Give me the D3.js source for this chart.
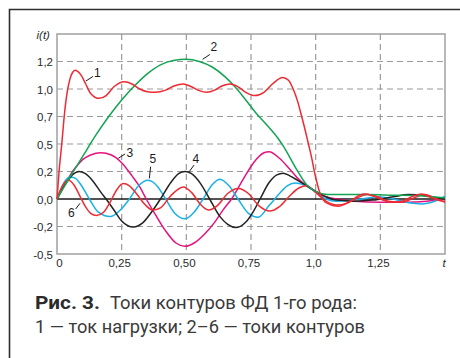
<!DOCTYPE html>
<html>
<head>
<meta charset="utf-8">
<script src="https://cdn.jsdelivr.net/npm/d3@7"></script>
<style>
  html, body { margin: 0; padding: 0; background: #fff; }
  svg { display: block; }
</style>
</head>
<body>
<svg id="chart" width="460" height="358"></svg>
<script>
// Load current (curve 1) and contour currents (curves 2–6) of a 1st-kind FD, i(t)
const load1 = [
  [0,0],[0.008,0.25],[0.018,0.49],[0.03,0.80],[0.04,0.98],[0.05,1.09],[0.06,1.15],
  [0.07,1.17],[0.08,1.16],[0.095,1.12],[0.11,1.05],[0.13,0.96],[0.163,0.915],
  [0.19,0.94],[0.22,1.02],[0.26,1.065],[0.29,1.045],[0.32,1.0],[0.35,0.975],
  [0.38,0.97],[0.42,0.99],[0.455,1.03],[0.487,1.045],[0.52,1.02],[0.55,0.985],
  [0.579,0.97],[0.61,0.99],[0.64,1.03],[0.669,1.045],[0.70,1.02],[0.73,0.97],
  [0.765,0.94],[0.80,0.97],[0.835,1.05],[0.872,1.105],[0.895,1.08],[0.913,1.0],
  [0.93,0.89],[0.946,0.75],[0.96,0.62],[0.972,0.5],[0.985,0.37],[0.995,0.25],
  [1.007,0.13],[1.017,0.05],[1.03,-0.01],[1.05,-0.045],[1.07,-0.062],[1.09,-0.065],
  [1.11,-0.05],[1.14,-0.01],[1.17,0.035],[1.19,0.045],[1.22,0.03],[1.26,-0.01],
  [1.3,-0.03],[1.34,-0.015],[1.38,0.03],[1.41,0.045],[1.44,0.02],[1.47,-0.01],[1.5,-0.02]
];
const contour2 = [
  [0,0],[0.05,0.2],[0.1,0.39],[0.15,0.58],[0.2,0.75],[0.25,0.9],[0.3,1.03],
  [0.35,1.14],[0.4,1.22],[0.45,1.26],[0.5,1.27],[0.55,1.25],[0.6,1.2],[0.65,1.11],
  [0.68,1.04],[0.72,0.93],[0.77,0.78],[0.82,0.65],[0.855,0.55],[0.875,0.48],
  [0.926,0.27],[0.965,0.13],[1.0,0.07],[1.03,0.045],[1.06,0.04],[1.1,0.04],
  [1.2,0.04],[1.3,0.035],[1.4,0.03],[1.45,0.02],[1.5,0.01]
];
const contour3 = [
  [0,0],[0.02,0.09],[0.04,0.17],[0.06,0.25],[0.08,0.31],[0.1,0.36],[0.13,0.40],
  [0.17,0.42],[0.21,0.40],[0.25,0.33],[0.29,0.21],[0.32,0.11],[0.345,0.0],
  [0.38,-0.14],[0.42,-0.29],[0.46,-0.40],[0.495,-0.43],[0.53,-0.40],[0.57,-0.32],
  [0.61,-0.21],[0.645,-0.09],[0.675,0.0],[0.72,0.18],[0.76,0.33],[0.80,0.42],
  [0.82,0.43],[0.86,0.37],[0.9,0.27],[0.93,0.19],[0.965,0.12],[1.0,0.07],
  [1.04,0.02],[1.08,0.0],[1.15,-0.02],[1.25,-0.03],[1.35,-0.03],[1.43,-0.02],[1.5,0.01]
];
const contour4 = [
  [0,0],[0.02,0.09],[0.04,0.16],[0.06,0.22],[0.085,0.25],[0.11,0.23],[0.14,0.16],
  [0.17,0.06],[0.19,0.0],[0.22,-0.10],[0.25,-0.20],[0.295,-0.255],[0.33,-0.22],
  [0.365,-0.12],[0.40,0.0],[0.44,0.15],[0.47,0.23],[0.495,0.25],[0.52,0.23],
  [0.555,0.14],[0.59,0.0],[0.63,-0.16],[0.66,-0.23],[0.694,-0.26],[0.73,-0.21],
  [0.76,-0.11],[0.785,0.0],[0.82,0.15],[0.85,0.22],[0.875,0.235],[0.90,0.21],
  [0.93,0.17],[0.965,0.12],[1.0,0.07],[1.04,0.02],[1.08,-0.01],[1.15,-0.02],
  [1.22,-0.01],[1.3,0.02],[1.36,0.04],[1.42,0.035],[1.47,0.01],[1.5,0.0]
];
const contour5 = [
  [0,0],[0.015,0.09],[0.03,0.16],[0.05,0.20],[0.07,0.19],[0.095,0.12],[0.125,0.0],
  [0.16,-0.12],[0.205,-0.16],[0.245,-0.10],[0.28,0.0],[0.315,0.12],[0.353,0.17],
  [0.39,0.11],[0.42,0.0],[0.455,-0.13],[0.495,-0.18],[0.53,-0.12],[0.565,0.0],
  [0.60,0.13],[0.63,0.18],[0.665,0.12],[0.70,0.0],[0.74,-0.13],[0.778,-0.165],
  [0.82,-0.06],[0.86,0.05],[0.89,0.12],[0.92,0.145],[0.945,0.135],[0.965,0.12],
  [1.0,0.06],[1.04,0.0],[1.08,-0.02],[1.12,-0.015],[1.18,0.0],[1.24,0.02],
  [1.3,0.0],[1.36,-0.035],[1.41,-0.045],[1.46,-0.02],[1.5,0.025]
];
const contour6 = [
  [0,0],[0.015,0.09],[0.03,0.15],[0.045,0.17],[0.065,0.13],[0.09,0.02],[0.11,-0.07],
  [0.13,-0.13],[0.153,-0.15],[0.18,-0.12],[0.205,-0.03],[0.23,0.08],[0.256,0.14],
  [0.28,0.12],[0.31,0.04],[0.34,-0.05],[0.37,-0.10],[0.40,-0.08],[0.44,0.03],
  [0.488,0.11],[0.52,0.06],[0.555,-0.05],[0.585,-0.10],[0.62,-0.06],[0.66,0.05],
  [0.70,0.095],[0.74,0.05],[0.78,-0.06],[0.823,-0.11],[0.86,-0.07],[0.9,0.03],
  [0.935,0.10],[0.965,0.12],[1.0,0.06],[1.04,-0.02],[1.08,-0.055],[1.12,-0.04],
  [1.16,0.01],[1.2,0.04],[1.24,0.02],[1.28,-0.02],[1.33,-0.03],[1.38,0.01],
  [1.42,0.04],[1.46,0.01],[1.5,-0.03]
];

// Axis ticks and their printed labels
const xTicks = [0, 0.25, 0.5, 0.75, 1.0, 1.25];
const xTickLabels = ["0", "0,25", "0,50", "0,75", "1,0", "1,25"];
const yTicks = [-0.5, -0.25, 0, 0.25, 0.5, 0.75, 1.0, 1.25];
const yTickLabels = ["-0,5", "-0,2", "0,0", "0,2", "0,5", "0,7", "1,0", "1,2"];

// Curve number callouts: label point, leader start (on curve), leader end
const callouts = [
  { name: "1", at: [0.143, 1.109], from: [0.112, 1.073], to: [0.139, 1.114] },
  { name: "2", at: [0.593, 1.341], from: [0.563, 1.27], to: [0.591, 1.314] },
  { name: "3", at: [0.269, 0.386], from: [0.237, 0.37], to: [0.263, 0.409] },
  { name: "4", at: [0.524, 0.323], from: [0.511, 0.248], to: [0.530, 0.309] },
  { name: "5", at: [0.358, 0.323], from: [0.357, 0.188], to: [0.362, 0.294] },
  { name: "6", at: [0.043, -0.168], from: [0.089, -0.039], to: [0.072, -0.091] }
];

const series = [
  { key: "c3", data: contour3, color: "#e5127d" },
  { key: "c5", data: contour5, color: "#1bb0e8" },
  { key: "c4", data: contour4, color: "#222222" },
  { key: "c6", data: contour6, color: "#ee2a32" },
  { key: "c2", data: contour2, color: "#12a454" },
  { key: "c1", data: load1, color: "#ee2a32" }
];

const svg = d3.select("#chart");
const plot = { left: 57, right: 445, top: 34, bottom: 254 };

const x = d3.scaleLinear().domain([0, 1.5]).range([plot.left, plot.right]);
const y = d3.scaleLinear().domain([-0.5, 1.5]).range([plot.bottom, plot.top]);

// Outer frame (top and left rules)
svg.append("path")
  .attr("d", "M9.5,358 V9.5 H460")
  .attr("fill", "none")
  .attr("stroke", "#2e2e2e")
  .attr("stroke-width", 1.6);

const gridColor = "#9a9a9a";

// Dashed grid
svg.append("g")
  .selectAll("line")
  .data(yTicks.filter(v => v !== 0 && v !== -0.5))
  .join("line")
  .attr("x1", plot.left).attr("x2", plot.right)
  .attr("y1", d => y(d)).attr("y2", d => y(d))
  .attr("stroke", gridColor)
  .attr("stroke-width", 1.2)
  .attr("stroke-dasharray", "6,4");

svg.append("g")
  .selectAll("line")
  .data(xTicks.filter(v => v > 0))
  .join("line")
  .attr("x1", d => x(d)).attr("x2", d => x(d))
  .attr("y1", plot.top).attr("y2", plot.bottom)
  .attr("stroke", gridColor)
  .attr("stroke-width", 1.2)
  .attr("stroke-dasharray", "6,4");

// Plot border
svg.append("rect")
  .attr("x", plot.left).attr("y", plot.top)
  .attr("width", plot.right - plot.left)
  .attr("height", plot.bottom - plot.top)
  .attr("fill", "none")
  .attr("stroke", "#a0a0a0")
  .attr("stroke-width", 1.5);

// Zero line
svg.append("line")
  .attr("x1", plot.left).attr("x2", plot.right)
  .attr("y1", y(0)).attr("y2", y(0))
  .attr("stroke", "#1a1a1a")
  .attr("stroke-width", 1.3);

// Axes (labels only, lines drawn above)
const axisFont = "'Liberation Sans', Arial, sans-serif";

const yAxis = d3.axisLeft(y)
  .tickValues(yTicks)
  .tickSize(0)
  .tickPadding(0)
  .tickFormat((d, i) => yTickLabels[i]);

svg.append("g")
  .attr("transform", `translate(${plot.left - 4},0)`)
  .call(yAxis)
  .call(g => g.select(".domain").remove())
  .call(g => g.selectAll("text")
    .attr("font-family", axisFont)
    .attr("font-size", 11.5)
    .attr("fill", "#2a2a2a")
    .attr("dy", "0.36em"));

const xAxis = d3.axisBottom(x)
  .tickValues(xTicks)
  .tickSize(0)
  .tickPadding(0)
  .tickFormat((d, i) => xTickLabels[i]);

svg.append("g")
  .attr("transform", `translate(0,${plot.bottom + 13})`)
  .call(xAxis)
  .call(g => g.select(".domain").remove())
  .call(g => g.selectAll("text")
    .attr("font-family", axisFont)
    .attr("font-size", 11.5)
    .attr("fill", "#2a2a2a")
    .attr("dy", 0)
    .attr("dx", d => d === 0 ? 2 : -2.5));

// Axis names
svg.append("text")
  .attr("x", 36.5).attr("y", 39)
  .attr("font-family", axisFont)
  .attr("font-style", "italic")
  .attr("font-size", 11.5)
  .attr("fill", "#2a2a2a")
  .text("i(t)");

svg.append("text")
  .attr("x", x(1.5) - 2.5).attr("y", plot.bottom + 13)
  .attr("font-family", axisFont)
  .attr("font-style", "italic")
  .attr("font-size", 11.5)
  .attr("fill", "#2a2a2a")
  .text("t");

// Curves
const line = d3.line()
  .x(d => x(d[0]))
  .y(d => y(d[1]))
  .curve(d3.curveMonotoneX);

svg.append("g")
  .selectAll("path")
  .data(series)
  .join("path")
  .attr("d", d => line(d.data))
  .attr("fill", "none")
  .attr("stroke", d => d.color)
  .attr("stroke-width", 1.5)
  .attr("stroke-linejoin", "round");

// Callouts
const cg = svg.append("g");
cg.selectAll("line")
  .data(callouts)
  .join("line")
  .attr("x1", d => x(d.from[0])).attr("y1", d => y(d.from[1]))
  .attr("x2", d => x(d.to[0])).attr("y2", d => y(d.to[1]))
  .attr("stroke", "#1a1a1a")
  .attr("stroke-width", 1);
cg.selectAll("text")
  .data(callouts)
  .join("text")
  .attr("x", d => x(d.at[0])).attr("y", d => y(d.at[1]))
  .attr("font-family", axisFont)
  .attr("font-size", 12)
  .attr("fill", "#1a1a1a")
  .text(d => d.name);

// Caption
const capFont = "'Liberation Sans Narrow', 'Roboto', 'DejaVu Sans Condensed', sans-serif";
svg.append("text")
  .attr("x", 35).attr("y", 309)
  .attr("font-family", capFont)
  .attr("font-weight", 700)
  .attr("font-size", 18)
  .attr("fill", "#2b2b2b")
  .attr("textLength", 65)
  .attr("lengthAdjust", "spacingAndGlyphs")
  .text("Рис. 3.");
svg.append("text")
  .attr("x", 110).attr("y", 309)
  .attr("font-family", capFont)
  .attr("font-size", 18)
  .attr("fill", "#3a3a3a")
  .attr("textLength", 247)
  .attr("lengthAdjust", "spacingAndGlyphs")
  .text("Токи контуров ФД 1-го рода:");
svg.append("text")
  .attr("x", 35).attr("y", 333)
  .attr("font-family", capFont)
  .attr("font-size", 18)
  .attr("fill", "#3a3a3a")
  .attr("textLength", 330)
  .attr("lengthAdjust", "spacingAndGlyphs")
  .text("1 — ток нагрузки; 2–6 — токи контуров");
</script>
</body>
</html>
